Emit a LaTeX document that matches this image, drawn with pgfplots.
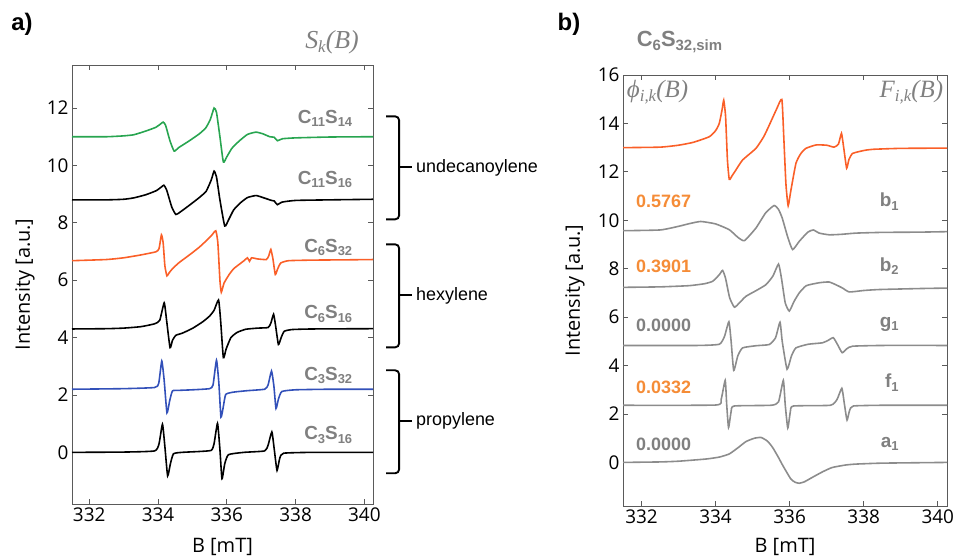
\documentclass[border=0pt]{standalone}
\usepackage{fontspec}
\setmainfont{Liberation Sans}
\newfontfamily\tickfont{Open Sans}
\newfontfamily\seriffont{Liberation Serif}
\usepackage{pgfplots}
\pgfplotsset{compat=1.18}
\definecolor{lblgray}{RGB}{128,128,128}
\definecolor{lngray}{RGB}{140,140,140}
\definecolor{cgreen}{RGB}{40,165,80}
\definecolor{corange}{RGB}{250,95,40}
\definecolor{cblue}{RGB}{50,80,185}
\definecolor{lorange}{RGB}{245,140,55}
\definecolor{framegray}{RGB}{90,90,90}
\newcommand\fs[1]{\fontsize{#1}{#1}\selectfont}
\newcommand\sub[1]{\raisebox{-0.35ex}{\fs{13}#1}}
\newcommand\isub[1]{\raisebox{-0.35ex}{\fs{17}#1}}
\pgfplotsset{myaxis/.style={scale only axis, axis line style={framegray, line width=0.9pt},
  tick style={framegray, line width=0.9pt}, major tick length=5bp, tick align=inside,
  xmin=331.5, xmax=340.25, xtick={332,334,...,340}, ymin=-1.8,
  tick label style={font=\tickfont\fs{19}}, /pgf/number format/assume math mode=true,
  label style={font=\tickfont\fs{20}}, xlabel={B [mT]}, ylabel={Intensity [a.u.]},
  clip=false, no markers, every axis plot/.append style={line width=1.6pt, smooth, tension=0.3}}}
\begin{document}
\begin{tikzpicture}
\useasboundingbox (0,0) rectangle (957bp,558bp);
% ---------------- panel a ----------------
\begin{axis}[myaxis, at={(72bp,54bp)}, anchor=south west, width=301bp, height=439bp,
  ymax=13.5, ytick={0,2,...,12},
  xlabel style={at={(axis description cs:0.5,-0.098)}, anchor=center},
  ylabel style={at={(axis description cs:-0.156,0.5)}, anchor=center}]
\addplot[cgreen] coordinates {(331.5,11.0) (332.5,11.0) (333.0,11.03) (333.3,11.07) (333.65,11.2) (333.94,11.33) (334.08,11.45) (334.15,11.51) (334.22,11.4) (334.35,10.85) (334.47,10.5) (334.6,10.62) (334.9,10.85) (335.2,11.1) (335.39,11.31) (335.52,11.6) (335.63,12.0) (335.7,11.85) (335.8,11.0) (335.9,10.12) (336.0,10.3) (336.15,10.6) (336.36,10.85) (336.6,11.08) (336.85,11.16) (337.05,11.1) (337.25,11.0) (337.38,10.98) (337.47,10.86) (337.62,10.93) (338.0,10.96) (339.0,10.99) (340.25,11.0)};
\addplot[black] coordinates {(331.5,8.8) (332.5,8.8) (333.0,8.82) (333.3,8.87) (333.65,8.98) (333.95,9.12) (334.1,9.25) (334.17,9.31) (334.25,9.15) (334.4,8.55) (334.52,8.29) (334.65,8.38) (334.9,8.6) (335.2,8.88) (335.4,9.1) (335.55,9.5) (335.63,9.8) (335.7,9.6) (335.8,8.8) (335.94,7.89) (336.05,8.1) (336.2,8.45) (336.4,8.7) (336.6,8.88) (336.85,8.95) (337.05,8.88) (337.3,8.78) (337.38,8.76) (337.47,8.63) (337.6,8.72) (338.0,8.78) (339.0,8.8) (340.25,8.82)};
\addplot[corange] coordinates {(331.5,6.68) (332.5,6.72) (333.0,6.78) (333.5,6.88) (333.94,6.99) (334.03,7.1) (334.1,7.58) (334.15,7.3) (334.2,6.5) (334.26,6.15) (334.32,6.25) (334.42,6.4) (334.6,6.6) (334.8,6.78) (335.0,6.96) (335.2,7.15) (335.39,7.36) (335.55,7.55) (335.68,7.72) (335.74,7.3) (335.8,6.0) (335.84,5.58) (335.92,5.9) (336.07,6.2) (336.2,6.4) (336.36,6.55) (336.5,6.68) (336.6,6.78) (336.66,6.66) (336.72,6.78) (336.9,6.74) (337.15,6.72) (337.22,6.85) (337.28,7.07) (337.34,6.75) (337.41,6.2) (337.48,6.4) (337.57,6.6) (337.8,6.68) (338.5,6.7) (339.5,6.71) (340.25,6.72)};
\addplot[black] coordinates {(331.5,4.3) (332.5,4.31) (333.0,4.33) (333.5,4.38) (333.9,4.48) (334.05,4.6) (334.18,5.21) (334.25,4.6) (334.35,3.65) (334.42,3.9) (334.52,4.08) (334.7,4.15) (335.0,4.32) (335.3,4.55) (335.5,4.75) (335.63,4.95) (335.76,5.31) (335.82,4.6) (335.9,3.3) (335.98,3.6) (336.12,4.0) (336.3,4.18) (336.55,4.29) (336.9,4.33) (337.2,4.35) (337.28,4.5) (337.36,4.81) (337.42,4.4) (337.5,3.76) (337.58,4.0) (337.67,4.22) (337.9,4.28) (338.5,4.3) (340.25,4.31)};
\addplot[cblue] coordinates {(331.5,2.2) (333.0,2.22) (333.9,2.26) (334.02,2.4) (334.11,3.18) (334.18,2.5) (334.26,1.38) (334.34,1.8) (334.42,2.14) (334.6,2.16) (335.0,2.18) (335.5,2.22) (335.6,2.35) (335.7,3.21) (335.77,2.4) (335.83,1.23) (335.9,1.6) (335.97,2.02) (336.2,2.1) (336.6,2.15) (337.1,2.2) (337.2,2.35) (337.3,2.83) (337.37,2.3) (337.43,1.53) (337.5,1.85) (337.6,2.12) (338.0,2.18) (339.0,2.2) (340.25,2.2)};
\addplot[black] coordinates {(331.5,0) (333.0,0.01) (333.9,0.05) (334.03,0.3) (334.13,0.98) (334.2,0.2) (334.28,-0.82) (334.36,-0.4) (334.45,-0.05) (334.7,0.0) (335.2,0.03) (335.55,0.07) (335.63,0.3) (335.73,1.01) (335.8,0.1) (335.86,-0.92) (335.94,-0.4) (336.05,-0.08) (336.5,0.0) (337.1,0.05) (337.2,0.25) (337.31,0.71) (337.38,0.1) (337.46,-0.63) (337.54,-0.2) (337.65,-0.03) (338.5,0.0) (340.25,0.0)};
% labels
\begin{scope}[every node/.style={anchor=east, inner sep=0pt, text=lblgray, font=\bfseries\fs{19}}]
\node at (axis cs:339.65,11.64) {C\sub{11}S\sub{14}};
\node at (axis cs:339.65,9.51) {C\sub{11}S\sub{16}};
\node at (axis cs:339.65,7.14) {C\sub{6}S\sub{32}};
\node at (axis cs:339.65,4.83) {C\sub{6}S\sub{16}};
\node at (axis cs:339.65,2.68) {C\sub{3}S\sub{32}};
\node at (axis cs:339.65,0.60) {C\sub{3}S\sub{16}};
\end{scope}
\node[text=lblgray, inner sep=0pt, font=\seriffont\itshape\fs{26}] at (axis cs:339.06,14.3) {S\isub{k}(B)};
% brackets
\begin{scope}[line width=1.9pt]
\draw[rounded corners=4bp] (axis cs:340.63,11.71) -- (axis cs:341.01,11.71) -- (axis cs:341.01,8.12) -- (axis cs:340.63,8.12);
\draw (axis cs:341.01,9.93) -- (axis cs:341.39,9.93);
\draw[rounded corners=4bp] (axis cs:340.63,7.25) -- (axis cs:341.01,7.25) -- (axis cs:341.01,3.66) -- (axis cs:340.63,3.66);
\draw (axis cs:341.01,5.47) -- (axis cs:341.39,5.47);
\draw[rounded corners=4bp] (axis cs:340.63,2.86) -- (axis cs:341.01,2.86) -- (axis cs:341.01,-0.73) -- (axis cs:340.63,-0.73);
\draw (axis cs:341.01,1.08) -- (axis cs:341.39,1.08);
\end{scope}
\begin{scope}[every node/.style={anchor=west, inner sep=0pt, font=\fs{18}}]
\node at (axis cs:341.5,9.93) {undecanoylene};
\node at (axis cs:341.5,5.47) {hexylene};
\node at (axis cs:341.5,1.08) {propylene};
\end{scope}
\end{axis}
% ---------------- panel b ----------------
\begin{axis}[myaxis, at={(623bp,52bp)}, anchor=south west, width=324bp, height=431bp,
  ymax=16, ytick={0,2,...,16},
  xlabel style={at={(axis description cs:0.5,-0.094)}, anchor=center},
  ylabel style={at={(axis description cs:-0.148,0.5)}, anchor=center}]
\addplot[corange] coordinates {(331.5,13.0) (332.5,13.02) (333.0,13.1) (333.4,13.22) (333.83,13.45) (334.0,13.7) (334.1,14.0) (334.18,14.6) (334.22,14.96) (334.27,14.3) (334.32,12.5) (334.37,11.69) (334.45,11.85) (334.55,12.08) (334.73,12.49) (335.09,12.97) (335.3,13.45) (335.45,13.93) (335.65,14.6) (335.79,14.99) (335.84,13.5) (335.9,11.5) (335.96,10.6) (336.03,11.2) (336.17,12.35) (336.3,12.75) (336.44,12.97) (336.71,13.11) (337.0,13.1) (337.2,13.02) (337.32,13.15) (337.4,13.59) (337.46,13.0) (337.54,12.15) (337.6,12.5) (337.7,12.76) (338.0,12.88) (338.24,12.93) (339.0,12.97) (340.25,12.98)};
\addplot[lngray] coordinates {(331.5,9.57) (332.5,9.6) (333.0,9.75) (333.29,9.86) (333.6,9.95) (334.0,9.85) (334.37,9.61) (334.6,9.3) (334.78,9.16) (335.09,9.68) (335.35,10.3) (335.58,10.61) (335.7,10.45) (335.8,10.09) (335.95,9.3) (336.08,8.79) (336.26,9.13) (336.49,9.51) (336.64,9.6) (336.8,9.47) (337.07,9.40) (337.4,9.42) (337.79,9.47) (338.5,9.5) (339.49,9.51) (340.25,9.53)};
\addplot[lngray] coordinates {(331.5,7.23) (332.5,7.25) (333.29,7.3) (333.7,7.38) (333.92,7.48) (334.1,7.75) (334.19,7.93) (334.27,7.6) (334.38,6.8) (334.51,6.41) (334.65,6.6) (334.82,6.86) (335.1,7.1) (335.36,7.34) (335.55,7.7) (335.7,8.19) (335.78,7.6) (335.88,6.6) (335.99,6.25) (336.12,6.65) (336.26,7.0) (336.45,7.3) (336.8,7.42) (337.07,7.45) (337.3,7.3) (337.43,7.2) (337.61,7.04) (338.0,7.1) (338.42,7.14) (339.5,7.18) (340.25,7.2)};
\addplot[lngray] coordinates {(331.5,4.83) (333.5,4.83) (334.1,4.88) (334.24,5.2) (334.36,5.81) (334.42,5.0) (334.49,3.8) (334.6,4.4) (334.73,4.73) (335.1,4.82) (335.45,4.87) (335.62,5.15) (335.74,5.79) (335.8,5.0) (335.93,3.85) (336.05,4.4) (336.17,4.73) (336.5,4.88) (336.89,4.94) (337.05,5.05) (337.18,5.15) (337.3,4.85) (337.42,4.53) (337.55,4.7) (337.7,4.80) (338.5,4.83) (340.25,4.83)};
\addplot[lngray] coordinates {(331.5,2.36) (334.0,2.37) (334.15,2.6) (334.26,3.39) (334.3,2.4) (334.35,1.44) (334.42,2.1) (334.5,2.33) (335.5,2.36) (335.7,2.5) (335.83,3.39) (335.88,2.4) (335.95,1.42) (336.02,2.1) (336.1,2.33) (337.1,2.36) (337.28,2.6) (337.41,3.06) (337.48,2.4) (337.55,1.75) (337.62,2.15) (337.72,2.33) (338.5,2.36) (340.25,2.36)};
\addplot[lngray] coordinates {(331.5,0.0) (332.5,0.02) (333.0,0.05) (333.74,0.14) (334.1,0.22) (334.37,0.35) (334.6,0.6) (334.82,0.86) (335.05,1.0) (335.23,1.03) (335.4,0.88) (335.54,0.62) (335.7,0.2) (335.82,-0.14) (336.03,-0.68) (336.15,-0.82) (336.26,-0.86) (336.4,-0.8) (336.61,-0.62) (336.9,-0.38) (337.15,-0.21) (337.5,-0.11) (337.78,-0.07) (338.5,-0.03) (340.25,0.0)};
\node[anchor=west, inner sep=0pt, text=lblgray, font=\bfseries\fs{22}] at (axis cs:331.87,17.36) {C\raisebox{-0.35ex}{\fs{15}6}S\raisebox{-0.35ex}{\fs{15}32,sim}};
\node[anchor=west, inner sep=0pt, text=lblgray, font=\seriffont\itshape\fs{25}] at (axis cs:331.6,15.3) {ϕ\isub{i,k}(B)};
\node[anchor=east, inner sep=0pt, text=lblgray, font=\seriffont\itshape\fs{25}] at (axis cs:340.15,15.3) {F\isub{i,k}(B)};
\begin{scope}[every node/.style={anchor=west, inner sep=0pt, font=\bfseries\fs{18}}]
\node[text=lorange] at (axis cs:331.85,10.77) {0.5767};
\node[text=lorange] at (axis cs:331.85,8.10) {0.3901};
\node[text=lblgray] at (axis cs:331.85,5.66) {0.0000};
\node[text=lorange] at (axis cs:331.85,3.12) {0.0332};
\node[text=lblgray] at (axis cs:331.85,0.73) {0.0000};
\end{scope}
\begin{scope}[every node/.style={anchor=east, inner sep=0pt, text=lblgray, font=\bfseries\fs{19}}]
\node at (axis cs:338.95,10.77) {b\sub{1}};
\node at (axis cs:338.95,8.10) {b\sub{2}};
\node at (axis cs:338.95,5.70) {g\sub{1}};
\node at (axis cs:338.95,3.30) {f\sub{1}};
\node at (axis cs:338.95,0.76) {a\sub{1}};
\end{scope}
\end{axis}
\node[font=\bfseries\fs{24}] at (22bp,534bp) {a)};
\node[font=\bfseries\fs{24}] at (569bp,534bp) {b)};
\end{tikzpicture}
\end{document}
